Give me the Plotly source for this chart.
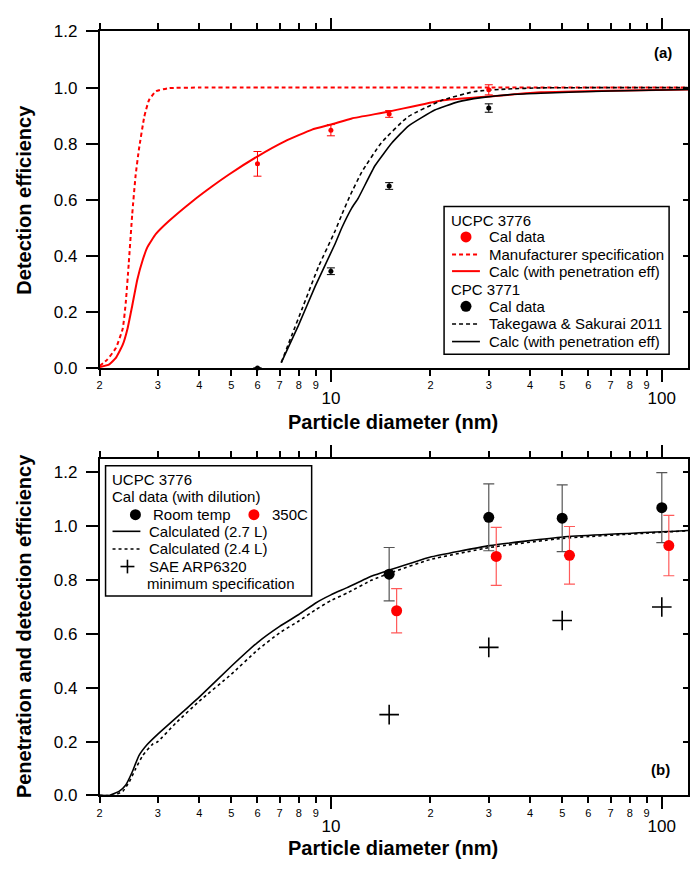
import math
import plotly.graph_objects as go

W, H = 691, 869

# ---------------- Panel (a) data ----------------
ucpc_cal_d = [6, 10, 15, 30]
ucpc_cal_eff = [0.728, 0.848, 0.906, 0.992]
ucpc_cal_err = [0.044, 0.02, 0.012, 0.018]

cpc_cal_d = [6, 10, 15, 30]
cpc_cal_eff = [0.0, 0.345, 0.649, 0.927]
cpc_cal_err = [0.0, 0.012, 0.012, 0.015]

mfr_d = [2.0, 2.11, 2.24, 2.35, 2.40, 2.45, 2.51, 2.57, 2.63, 2.73, 2.82, 2.96, 3.24, 4.0, 120]
mfr_eff = [0.007, 0.030, 0.071, 0.141, 0.234, 0.373, 0.548, 0.687, 0.780, 0.896, 0.955, 0.987, 0.998, 1.0, 1.0]

ucpc_calc_d = [2.0, 2.14, 2.24, 2.35, 2.43, 2.51, 2.60, 2.70, 2.79, 2.96, 3.24, 3.81, 4.38,
               4.92, 5.99, 7.28, 8.77, 10.07, 11.57, 14.9, 21.6, 29.8, 43.1, 70, 120]
ucpc_calc_eff = [0.003, 0.013, 0.036, 0.083, 0.141, 0.222, 0.315, 0.385, 0.431, 0.478, 0.524, 0.594, 0.648,
                 0.690, 0.754, 0.809, 0.850, 0.869, 0.890, 0.914, 0.954, 0.968, 0.983, 0.989, 0.993]

tak_d = [7.08, 7.62, 8.18, 9.18, 10.3, 10.8, 11.4, 12.4, 14.2, 17.1, 21.6, 27.2, 34.3, 43.1, 120]
tak_eff = [0.019, 0.117, 0.210, 0.362, 0.489, 0.548, 0.612, 0.699, 0.803, 0.896, 0.954, 0.986, 0.995, 0.999, 1.0]

cpc_calc_d = [7.08, 7.98, 8.97, 10.3, 10.8, 11.57, 12.1, 13.6, 15.3, 17.1, 20.6, 24.2, 28.5, 35.9, 43.1, 70, 120]
cpc_calc_eff = [0.019, 0.152, 0.292, 0.443, 0.501, 0.571, 0.606, 0.722, 0.803, 0.862, 0.920, 0.949, 0.964,
                0.976, 0.980, 0.988, 0.993]

# ---------------- Panel (b) data ----------------
calc27_d = [2.0, 2.14, 2.29, 2.40, 2.51, 2.63, 2.79, 3.0, 3.64, 4.0, 5.0, 6.0, 7.0, 8.0, 9.0, 10.0,
            11.2, 13.3, 15.1, 19.9, 30.2, 50.2, 120]
calc27_eff = [0.0, 0.0, 0.015, 0.039, 0.087, 0.148, 0.190, 0.228, 0.320, 0.365, 0.480, 0.568, 0.628, 0.672,
              0.715, 0.745, 0.772, 0.815, 0.838, 0.885, 0.928, 0.960, 0.984]

calc24_d = [2.0, 2.2, 2.35, 2.46, 2.57, 2.70, 2.89, 3.0, 3.40, 4.0, 5.0, 6.0, 7.0, 8.0, 9.0, 10.0,
            11.2, 13.3, 15.1, 19.9, 30.2, 50.2, 120]
calc24_eff = [0.0, 0.0, 0.015, 0.051, 0.099, 0.148, 0.190, 0.200, 0.269, 0.350, 0.450, 0.540, 0.604, 0.648,
              0.690, 0.724, 0.752, 0.800, 0.826, 0.876, 0.921, 0.955, 0.983]

rt_d = [15, 30, 50, 100]
rt_eff = [0.822, 1.033, 1.030, 1.069]
rt_err = [0.099, 0.124, 0.124, 0.130]

hot_d = [15.8, 31.6, 52.6, 105]
hot_eff = [0.686, 0.888, 0.892, 0.928]
hot_err = [0.082, 0.108, 0.107, 0.112]

sae_d = [15, 30, 50, 100]
sae_eff = [0.3, 0.55, 0.65, 0.7]

# ---------------- axis tick labels ----------------
x_major_vals = [10, 100]
x_major_text = ["10", "100"]
x_minor_vals = [2, 3, 4, 5, 6, 7, 8, 9, 20, 30, 40, 50, 60, 70, 80, 90]
x_minor_text = ["2", "3", "4", "5", "6", "7", "8", "9", "2", "3", "4", "5", "6", "7", "8", "9"]

FONT = "Liberation Sans, Arial, sans-serif"
RED = "#ff0000"
DASH = "4px,3px"
SM = 0.4

fig = go.Figure()

# Panel (a) traces
fig.add_trace(go.Scatter(x=mfr_d, y=mfr_eff, mode="lines", line=dict(color=RED, width=2, dash=DASH, shape="spline", smoothing=SM),
                         xaxis="x", yaxis="y", showlegend=False))
fig.add_trace(go.Scatter(x=ucpc_calc_d, y=ucpc_calc_eff, mode="lines", line=dict(color=RED, width=2, shape="spline", smoothing=SM),
                         xaxis="x", yaxis="y", showlegend=False))
fig.add_trace(go.Scatter(x=tak_d, y=tak_eff, mode="lines", line=dict(color="black", width=1.6, dash=DASH, shape="spline", smoothing=SM),
                         xaxis="x", yaxis="y", showlegend=False))
fig.add_trace(go.Scatter(x=cpc_calc_d, y=cpc_calc_eff, mode="lines", line=dict(color="black", width=1.6, shape="spline", smoothing=SM),
                         xaxis="x", yaxis="y", showlegend=False))
fig.add_trace(go.Scatter(x=ucpc_cal_d, y=ucpc_cal_eff, mode="markers", marker=dict(color=RED, size=5),
                         error_y=dict(type="data", array=ucpc_cal_err, color=RED, thickness=1, width=4),
                         xaxis="x", yaxis="y", showlegend=False, cliponaxis=False))
fig.add_trace(go.Scatter(x=cpc_cal_d, y=cpc_cal_eff, mode="markers", marker=dict(color="black", size=5),
                         error_y=dict(type="data", array=cpc_cal_err, color="black", thickness=1, width=4),
                         xaxis="x", yaxis="y", showlegend=False, cliponaxis=False))

# Panel (b) traces
fig.add_trace(go.Scatter(x=calc27_d, y=calc27_eff, mode="lines", line=dict(color="black", width=1.6, shape="spline", smoothing=SM),
                         xaxis="x2", yaxis="y2", showlegend=False))
fig.add_trace(go.Scatter(x=calc24_d, y=calc24_eff, mode="lines", line=dict(color="black", width=1.6, dash="3px,3px", shape="spline", smoothing=SM),
                         xaxis="x2", yaxis="y2", showlegend=False))
fig.add_trace(go.Scatter(x=rt_d, y=rt_eff, mode="markers", marker=dict(color="black", size=11),
                         error_y=dict(type="data", array=rt_err, color="#555555", thickness=1.2, width=5.5),
                         xaxis="x2", yaxis="y2", showlegend=False))
fig.add_trace(go.Scatter(x=hot_d, y=hot_eff, mode="markers", marker=dict(color=RED, size=11),
                         error_y=dict(type="data", array=hot_err, color="#ff5a5a", thickness=1.2, width=5.5),
                         xaxis="x2", yaxis="y2", showlegend=False))
fig.add_trace(go.Scatter(x=sae_d, y=sae_eff, mode="markers",
                         marker=dict(symbol="cross-thin", size=14, line=dict(color="black", width=1.6)),
                         xaxis="x2", yaxis="y2", showlegend=False))

# dummy traces for overlay axes
fig.add_trace(go.Scatter(x=[], y=[], xaxis="x3", yaxis="y3", showlegend=False, hoverinfo="skip"))
fig.add_trace(go.Scatter(x=[], y=[], xaxis="x4", yaxis="y4", showlegend=False, hoverinfo="skip"))

# geometry (pixels)
xl, xr = 97, 688
a_top, a_bot = 23, 367
b_top, b_bot = 460, 804
xdom = [xl / W, xr / W]
adom = [1 - a_bot / H, 1 - a_top / H]
bdom = [1 - b_bot / H, 1 - b_top / H]
xrange = [math.log10(2), math.log10(120)]

LW = 1.5
common_x_major = dict(type="log", range=xrange, domain=xdom, tickmode="array", tickvals=x_major_vals,
                      ticktext=x_major_text, ticks="outside", ticklen=12, tickwidth=LW, tickcolor="black",
                      showline=True, linecolor="black", linewidth=LW, mirror="ticks", showgrid=False,
                      zeroline=False, tickfont=dict(family=FONT, size=17, color="black"), ticklabelstandoff=2)
common_x_minor = dict(type="log", range=xrange, tickmode="array", tickvals=x_minor_vals, ticktext=x_minor_text,
                      ticks="outside", ticklen=7, tickwidth=LW, tickcolor="black", showline=False,
                      mirror="ticks", showgrid=False, zeroline=False,
                      tickfont=dict(family=FONT, size=11, color="black"), ticklabelstandoff=0)
common_y = dict(dtick=0.2, tick0=0, tickformat=".1f", ticks="outside", ticklen=12, tickwidth=LW, tickcolor="black",
                showline=True, linecolor="black", linewidth=LW, showgrid=False, zeroline=False,
                tickfont=dict(family=FONT, size=17, color="black"), ticklabelstandoff=5)
common_y_right = dict(dtick=0.2, tick0=0, ticks="inside", ticklen=5, tickwidth=LW, tickcolor="black",
                      showline=True, linecolor="black", linewidth=LW, showgrid=False, zeroline=False,
                      showticklabels=False, side="right")

fig.update_layout(
    xaxis=dict(common_x_major, anchor="y"),
    yaxis=dict(common_y, range=[0, 1.2], domain=adom, anchor="x"),
    xaxis3=dict(common_x_minor, overlaying="x", anchor="y"),
    yaxis3=dict(common_y_right, range=[0, 1.2], overlaying="y", anchor="x"),
    xaxis2=dict(common_x_major, anchor="y2"),
    yaxis2=dict(common_y, range=[0, 1.25], domain=bdom, anchor="x2"),
    xaxis4=dict(common_x_minor, overlaying="x2", anchor="y2"),
    yaxis4=dict(common_y_right, range=[0, 1.25], overlaying="y2", anchor="x2"),
)


def px(x):
    return x / W


def py(y):
    return 1 - y / H


annotations = []
shapes = []


def text(x, y, s, size=15, bold=False, anchor="left", angle=0):
    annotations.append(dict(xref="paper", yref="paper", x=px(x), y=py(y), text=(f"<b>{s}</b>" if bold else s),
                            showarrow=False, xanchor=anchor, yanchor="middle", textangle=angle,
                            font=dict(family=FONT, size=size, color="black")))


def line(x0, x1, y, color, dash="solid", width=1.6):
    shapes.append(dict(type="line", xref="paper", yref="paper", x0=px(x0), x1=px(x1), y0=py(y), y1=py(y),
                       line=dict(color=color, width=width, dash=dash)))


def dot(x, y, color, r=5.5):
    shapes.append(dict(type="circle", xref="paper", yref="paper", xsizemode="pixel", ysizemode="pixel",
                       xanchor=px(x), yanchor=py(y), x0=-r, x1=r, y0=-r, y1=r,
                       fillcolor=color, line=dict(color=color, width=0)))


def box(x0, y0, x1, y1):
    shapes.append(dict(type="rect", xref="paper", yref="paper", x0=px(x0), x1=px(x1), y0=py(y1), y1=py(y0),
                       line=dict(color="black", width=1.5), fillcolor="white", layer="above"))


# axis titles
text(392, 422, "Particle diameter (nm)", size=20, bold=True, anchor="center")
text(392, 858, "Particle diameter (nm)", size=20, bold=True, anchor="center")
text(21, 195, "Detection efficiency", size=20, bold=True, anchor="center", angle=-90)
text(21, 631, "Penetration and detection efficiency", size=20, bold=True, anchor="center", angle=-90)
text(674, 44, "(a)", size=15, bold=True, anchor="right")
text(672, 777, "(b)", size=15, bold=True, anchor="right")

# legend (a)
box(443, 202, 669, 353)
text(448, 216, "UCPC 3776")
dot(465, 233, RED)
text(486, 233, "Cal data")
line(451, 479, 251, RED, DASH, 2)
text(486, 251, "Manufacturer specification")
line(451, 479, 268, RED, "solid", 2)
text(486, 268, "Calc (with penetration eff)")
text(448, 287, "CPC 3771")
dot(465, 304, "black")
text(486, 304, "Cal data")
line(451, 479, 322, "black", DASH)
text(486, 322, "Takegawa &amp; Sakurai 2011")
line(451, 479, 340, "black")
text(486, 340, "Calc (with penetration eff)")

# legend (b)
box(103, 467, 310, 600)
text(107, 481, "UCPC 3776")
text(107, 498, "Cal data (with dilution)")
dot(133, 517, "black")
text(149, 517, "Room temp")
dot(252, 517, RED)
text(268, 517, "350C")
line(110, 138, 534, "black")
text(145, 534, "Calculated (2.7 L)")
line(110, 138, 552, "black", "3px,3px")
text(145, 552, "Calculated (2.4 L)")
line(118, 132, 570, "black")
shapes.append(dict(type="line", xref="paper", yref="paper", x0=px(125), x1=px(125), y0=py(563), y1=py(577),
                   line=dict(color="black", width=1.6)))
text(145, 570, "SAE ARP6320")
text(143, 587, "minimum specification")

fig.update_layout(annotations=annotations, shapes=shapes)

fig.update_layout(width=W, height=H, margin=dict(l=0, r=0, t=0, b=0), paper_bgcolor="white",
                  plot_bgcolor="white", showlegend=False, font=dict(family=FONT, color="black"))

fig.write_html("out.html")
